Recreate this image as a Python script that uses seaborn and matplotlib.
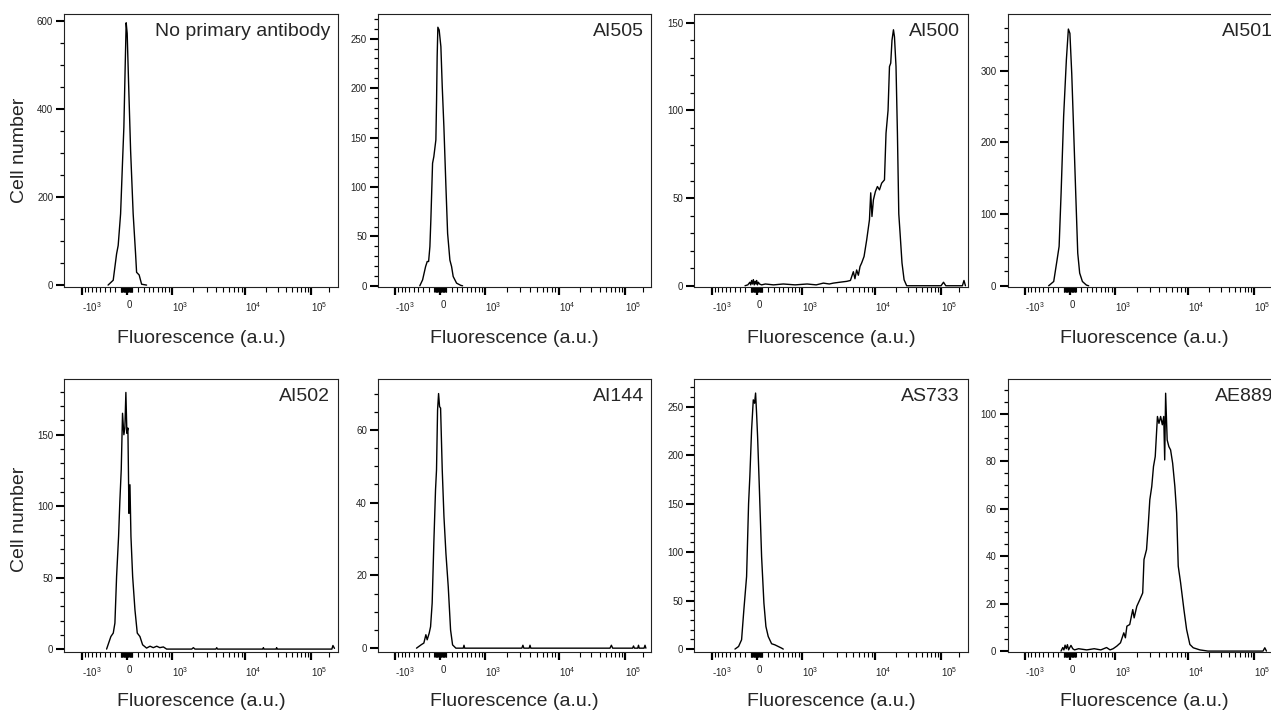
import numpy as np
import matplotlib
matplotlib.use("Agg")
import matplotlib.pyplot as plt
import seaborn as sns
from matplotlib.ticker import FixedLocator, FixedFormatter, MultipleLocator, FormatStrFormatter

# ---- data (fluorescence value, cell count) ----
titles = ["No primary antibody", "AI505", "AI500", "AI501",
          "AI502", "AI144", "AS733", "AE889"]

x_noab = [-330, -233, -172, -144, -102, -68, -46, -24, -7, 10, 34, 68, 112, 154, 172, 218, 263, 359]
y_noab = [0, 11, 71, 90, 162, 283, 359, 496, 596, 572, 458, 306, 162, 71, 29, 23, 2, 0]

x_ai505 = [-369, -314, -257, -227, -202, -179, -162, -132, -110, -75, -63, -53, -41, -19,
           10, 33, 61, 96, 125, 165, 195, 224, 287, 367, 406]
y_ai505 = [0, 6, 19.5, 24.6, 24.6, 39.7, 66.7, 124, 130.7, 147.6, 188, 232, 261.6, 258.8,
           242, 201.5, 161, 100, 53, 26, 19.5, 9.4, 2.7, 0.5, 0]

x_ai500 = [-200, -150, -115, -100, -85, -70, -55, -40, -25, -10, 0, 15, 30, 50, 85, 150, 300,
           500, 800, 1200, 1600, 2000, 2400, 2716, 3300, 4093, 4600, 5042, 5300, 5588, 5900,
           6220, 6546, 7063, 7670, 8390, 8737, 9096, 9527, 10154, 10850, 11600, 12460, 13670,
           14390, 15390, 16140, 16830, 17550, 18440, 19080, 20100, 21080, 22080, 23070, 24640,
           26470, 28940, 100000, 110000, 120000, 230000, 245000, 260000]
y_ai500 = [0, 0.5, 2, 0.5, 3, 1, 3.5, 0.5, 2.5, 1, 3, 0.5, 2, 1, 0.5, 1, 0.5,
           1, 0.5, 1, 0.5, 1.5, 1, 1.5, 2, 2.5, 3, 8, 4, 9, 6,
           11, 13, 16.7, 26, 37.6, 53, 39.5, 49, 53.7, 56.6, 54.7, 58.5, 60.4,
           87, 100, 125, 127, 140, 146, 142, 125, 87, 41, 30, 13,
           3.4, 0, 0, 2, 0, 0, 3, 0]

x_ai501 = [-382, -283, -221, -184, -149, -105, -58, -24, 2, 33, 67, 101, 136, 170, 219, 293, 337]
y_ai501 = [0, 6, 36, 55, 129, 236, 315, 358, 352, 296, 213, 129, 45.5, 17.7, 6, 1, 0]

x_ai502 = [-359, -276, -232, -202, -172, -137, -115, -91, -69, -46, -29, -12, 5, 22, 40, 57,
           74, 103, 143, 184, 232, 282, 359, 430, 500, 580, 655, 750, 842, 1900, 2000, 2100,
           4000, 4100, 4200, 18000, 18400, 18800, 28300, 28900, 29500, 225000, 235000, 250000]
y_ai502 = [0, 8.8, 11.2, 18.2, 50.8, 78.8, 103.3, 125.5, 165, 150, 154.7, 179.6, 151, 154.7, 95, 115,
           78.8, 50.8, 27.5, 11.2, 8.8, 3, 0.7, 2, 1, 2, 1, 1.5, 0, 0, 1, 0,
           0, 1, 0, 0, 1, 0, 0, 1, 0, 0, 2.5, 0.5]

x_ai144 = [-437, -335, -290, -252, -228, -192, -167, -139, -110, -81, -64, -46, -29, -12, 5, 33,
           62, 96, 136, 177, 213, 274, 420, 435, 450, 3150, 3254, 3350, 3950, 4050, 4150,
           58000, 61000, 64000, 135000, 140000, 145000, 165000, 170000, 175000, 212000, 220000, 228000]
y_ai144 = [0, 1, 1.4, 3.7, 2.3, 4.1, 5.9, 12.4, 28.9, 43.5, 49, 65.5, 70, 66.4, 66, 49,
           36.2, 26, 16.9, 5, 0.9, 0, 0, 0.8, 0, 0, 0.8, 0, 0, 0.8, 0,
           0, 0.8, 0, 0, 0.6, 0, 0, 0.8, 0, 0, 0.8, 0]

x_as733 = [-392, -320, -263, -221, -172, -137, -115, -85, -56, -34, -17, 0, 17, 46, 85, 125,
           160, 201, 263, 325, 392, 463, 500]
y_as733 = [0, 2.7, 9.6, 40.5, 74.8, 150, 178, 226, 257, 253.5, 264, 243, 219, 167.6, 95.4, 47.4,
           23.3, 13, 5.5, 4.4, 2.7, 1, 0]

x_ae889 = [-150, -120, -100, -80, -60, -40, -20, 0, 20, 50, 80, 150, 300, 450, 600, 750, 850, 945,
           1070, 1206, 1341, 1411, 1480, 1617, 1777, 1855, 2015, 2211, 2414, 2512, 2716, 2856,
           3004, 3189, 3363, 3549, 3799, 3984, 4192, 4419, 4617, 4759, 4900, 5141, 5423, 5722,
           6105, 6546, 6928, 7288, 7857, 8737, 9527, 10590, 11820, 14700, 19270, 140000, 150000, 160000]
y_ae889 = [0, 1.5, 0.5, 2.5, 1, 2.7, 0.5, 1.5, 2.4, 1, 0.5, 1, 0.5, 1, 0.5, 1.5, 0.5, 1,
           2.1, 3.5, 7.7, 5.6, 10.5, 11.2, 17.5, 14, 18.9, 21.7, 24.5, 38.6, 42.8, 52.6,
           63.8, 69.4, 77.8, 82, 98.9, 96, 98.9, 95.4, 98.9, 80.6, 108.7, 89, 86.2, 84.8,
           79.2, 69.4, 58.2, 35.8, 28.8, 17.5, 9.1, 2.8, 1.4, 0.5, 0, 0, 1.4, 0]

xs = [x_noab, x_ai505, x_ai500, x_ai501, x_ai502, x_ai144, x_as733, x_ae889]
ys = [y_noab, y_ai505, y_ai500, y_ai501, y_ai502, y_ai144, y_as733, y_ae889]

x_major = [-1000, 0, 1000, 10000, 100000]
x_major_labels = ["-10$^{3}$", "0", "10$^{3}$", "10$^{4}$", "10$^{5}$"]

# ---- axis settings per panel ----
ytops = [616, 275, 155, 379, 189, 74, 278.5, 114.7]
ybots = [-3.9, -1.0, -0.6, -1.4, -1.9, -1.0, -2.8, -0.3]
ymajor = [200, 50, 50, 100, 50, 20, 50, 20]
yminor = [50, 10, 10, 20, 10, 5, 10, 5]

# biexponential-like display scale (FlowJo style)
A = 635.0
C = 0.0257


def biex_fwd(x):
    u = np.arcsinh(np.asarray(x, dtype=float) / A)
    return u - C * u * np.abs(u)


def biex_inv(v):
    v = np.clip(np.asarray(v, dtype=float), -9.5, 9.5)
    u = np.sign(v) * (1 - np.sqrt(1 - 4 * C * np.abs(v))) / (2 * C)
    return A * np.sinh(u)


x_minor = ([-900 + 100 * i for i in range(9)] + [-90 + 10 * i for i in range(9)]
           + [10 * i for i in range(1, 10)] + [100 * i for i in range(1, 10)]
           + [1000 * i for i in range(2, 10)] + [10000 * i for i in range(2, 10)] + [200000])

sns.set_style("ticks")
plt.rcParams["font.family"] = ["Liberation Sans", "DejaVu Sans"]
plt.rcParams["mathtext.fontset"] = "custom"
plt.rcParams["mathtext.rm"] = "Liberation Sans"
plt.rcParams["mathtext.default"] = "regular"

W, H = 1271, 713
fig = plt.figure(figsize=(W / 100, H / 100), dpi=100)

col_left = [64.3, 378.0, 694.3, 1007.5]
row_top = [14.0, 379.0]
ax_w, ax_h = 273.4, 272.8

for i in range(8):
    r, c = divmod(i, 4)
    ax = fig.add_axes([col_left[c] / W, 1 - (row_top[r] + ax_h) / H, ax_w / W, ax_h / H])
    ax.set_xscale("function", functions=(biex_fwd, biex_inv))

    sns.lineplot(x=np.array(xs[i], dtype=float), y=np.array(ys[i], dtype=float), ax=ax,
                 color="black", linewidth=1.0, estimator=None, sort=False, legend=False)

    ax.set_xlim(-1740, 285000)
    ax.set_ylim(ybots[i], ytops[i])

    ax.xaxis.set_major_locator(FixedLocator(x_major))
    ax.xaxis.set_major_formatter(FixedFormatter(x_major_labels))
    ax.xaxis.set_minor_locator(FixedLocator(x_minor))
    ax.yaxis.set_major_locator(MultipleLocator(ymajor[i]))
    ax.yaxis.set_minor_locator(MultipleLocator(yminor[i]))
    ax.yaxis.set_major_formatter(FormatStrFormatter("%d"))

    ax.tick_params(axis="x", which="major", direction="out", length=5.8, width=1.6,
                   pad=4, labelsize=7, color="black", labelcolor="#222222")
    ax.tick_params(axis="x", which="minor", direction="out", length=3.6, width=0.8, color="black")
    ax.tick_params(axis="y", which="major", direction="out", length=5.5, width=1.5,
                   pad=2.5, labelsize=7, color="black", labelcolor="#222222")
    ax.tick_params(axis="y", which="minor", direction="out", length=2.6, width=0.9, color="black")
    for lab in ax.get_xticklabels():
        lab.set_ha("left")

    for sp in ax.spines.values():
        sp.set_visible(True)
        sp.set_linewidth(0.8)
        sp.set_color("#222222")

    ax.set_xlabel("Fluorescence (a.u.)", fontsize=14)
    ax.xaxis.label.set_va("center")
    ax.xaxis.set_label_coords(0.5, -0.19 if r == 0 else -0.183)
    if c == 0:
        ax.set_ylabel("Cell number", fontsize=14)
        ax.yaxis.label.set_va("center")
        ax.yaxis.set_label_coords(-0.165, 0.5 if r == 0 else 0.485)
    else:
        ax.set_ylabel("")

    ax.text(0.972, 0.935, titles[i], transform=ax.transAxes, ha="right", va="center", fontsize=14)

fig.savefig("out.png", dpi=100)
